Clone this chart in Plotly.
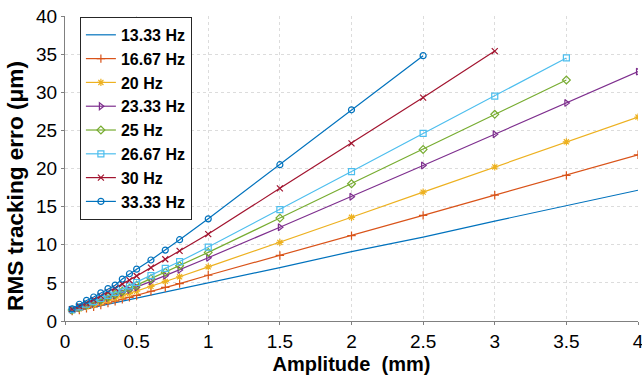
import plotly.graph_objects as go

amp = [0.05, 0.1, 0.15, 0.2, 0.25, 0.3, 0.35, 0.4, 0.45, 0.5, 0.6, 0.7, 0.8, 1, 1.5, 2, 2.5, 3, 3.5, 4]

labels = ["13.33 Hz", "16.67 Hz", "20 Hz", "23.33 Hz", "25 Hz", "26.67 Hz", "30 Hz", "33.33 Hz"]

err_13 = [1.2, 1.4, 1.6, 1.8, 2.0, 2.2, 2.4, 2.6, 2.8, 3.0, 3.4, 3.8, 4.2, 5.0, 7.0, 9.1, 11.0, 13.1, 15.1, 17.15]
err_16 = [1.3, 1.45, 1.65, 1.85, 2.1, 2.35, 2.6, 2.85, 3.1, 3.35, 3.9, 4.4, 4.9, 6.0, 8.6, 11.2, 13.85, 16.5, 19.1, 21.8]
err_20 = [1.35, 1.6, 1.85, 2.1, 2.4, 2.7, 3.0, 3.3, 3.6, 3.9, 4.55, 5.2, 5.8, 7.1, 10.3, 13.6, 16.9, 20.2, 23.5, 26.75]
err_23 = [1.4, 1.7, 2.0, 2.3, 2.65, 3.0, 3.35, 3.7, 4.05, 4.4, 5.2, 5.95, 6.7, 8.3, 12.3, 16.3, 20.4, 24.5, 28.6, 32.7]
err_25 = [1.45, 1.75, 2.1, 2.45, 2.8, 3.15, 3.5, 3.9, 4.3, 4.7, 5.55, 6.4, 7.25, 9.0, 13.5, 18.0, 22.5, 27.1, 31.6]
err_26 = [1.5, 1.85, 2.2, 2.55, 2.95, 3.35, 3.75, 4.2, 4.6, 5.05, 5.95, 6.9, 7.8, 9.7, 14.6, 19.6, 24.6, 29.5, 34.5]
err_30 = [1.55, 1.95, 2.35, 2.8, 3.3, 3.8, 4.3, 4.85, 5.35, 5.9, 7.0, 8.1, 9.2, 11.4, 17.4, 23.3, 29.3, 35.4]
err_33 = [1.6, 2.2, 2.7, 3.15, 3.7, 4.25, 4.7, 5.5, 6.2, 6.8, 8.0, 9.3, 10.66, 13.4, 20.5, 27.7, 34.8]

x_ticks = [0, 0.5, 1, 1.5, 2, 2.5, 3, 3.5, 4]
x_ticktext = ["0", "0.5", "1", "1.5", "2", "2.5", "3", "3.5", "4"]
y_ticks = [0, 5, 10, 15, 20, 25, 30, 35, 40]

x_title = "Amplitude  (mm)"
y_title = "RMS tracking erro (μm)"

series = [err_13, err_16, err_20, err_23, err_25, err_26, err_30, err_33]
colors = ["#0072BD", "#D95319", "#EDB120", "#7E2F8E", "#77AC30", "#4DBEEE", "#A2142F", "#0072BD"]
symbols = [None, "cross-thin-open", "asterisk-open", "triangle-right-open", "diamond-open",
           "square-open", "x-thin-open", "circle-open"]

fig = go.Figure()
for lab, ys, col, sym in zip(labels, series, colors, symbols):
    xs = amp[:len(ys)]
    if sym is None:
        fig.add_trace(go.Scatter(x=xs, y=ys, name=lab, mode="lines",
                                 line=dict(color=col, width=1.2)))
    else:
        fig.add_trace(go.Scatter(x=xs, y=ys, name=lab, mode="lines+markers",
                                 line=dict(color=col, width=1.2),
                                 marker=dict(symbol=sym, size=6, color=col,
                                             line=dict(color=col, width=1.2))))

fig.update_layout(
    width=642, height=379,
    margin=dict(l=65, r=4, t=16, b=58),
    plot_bgcolor="white", paper_bgcolor="white",
    font=dict(family="Liberation Sans, Arial, sans-serif", color="#262626"),
    showlegend=True,
    legend=dict(x=0.026, y=0.997, xanchor="left", yanchor="top",
                bgcolor="white", bordercolor="#262626", borderwidth=1,
                font=dict(size=16, weight="bold", color="#000000"),
                itemwidth=30, tracegroupgap=0),
    annotations=[dict(text=y_title, textangle=-90, showarrow=False,
                      xref="paper", yref="paper", x=-0.0855, y=0.443,
                      xanchor="center", yanchor="middle",
                      font=dict(size=22.6, weight="bold", color="#000000"))],
)
fig.update_xaxes(range=[0, 4], tickvals=x_ticks, ticktext=x_ticktext,
                 showline=True, linecolor="#808080", linewidth=1,
                 ticks="outside", ticklen=3, tickcolor="#808080",
                 showgrid=True, gridcolor="#dcdcdc", griddash="dot", gridwidth=1,
                 zeroline=False, tickfont=dict(size=19, color="#000000"),
                 automargin=False, ticklabeloverflow="allow",
                 title=dict(text=x_title, font=dict(size=20, weight="bold", color="#000000"),
                            standoff=6))
fig.update_yaxes(range=[0, 40], tickvals=y_ticks,
                 showline=True, linecolor="#808080", linewidth=1,
                 ticks="outside", ticklen=3, tickcolor="#808080",
                 showgrid=True, gridcolor="#dcdcdc", griddash="dot", gridwidth=1,
                 zeroline=False, tickfont=dict(size=19, color="#000000"),
                 automargin=False, ticklabeloverflow="allow")

# remove the default 8px page margin so the figure fills the 642x379 window
fig.write_html("out.html", config={"displayModeBar": False},
               post_script="document.body.style.margin='0';")
